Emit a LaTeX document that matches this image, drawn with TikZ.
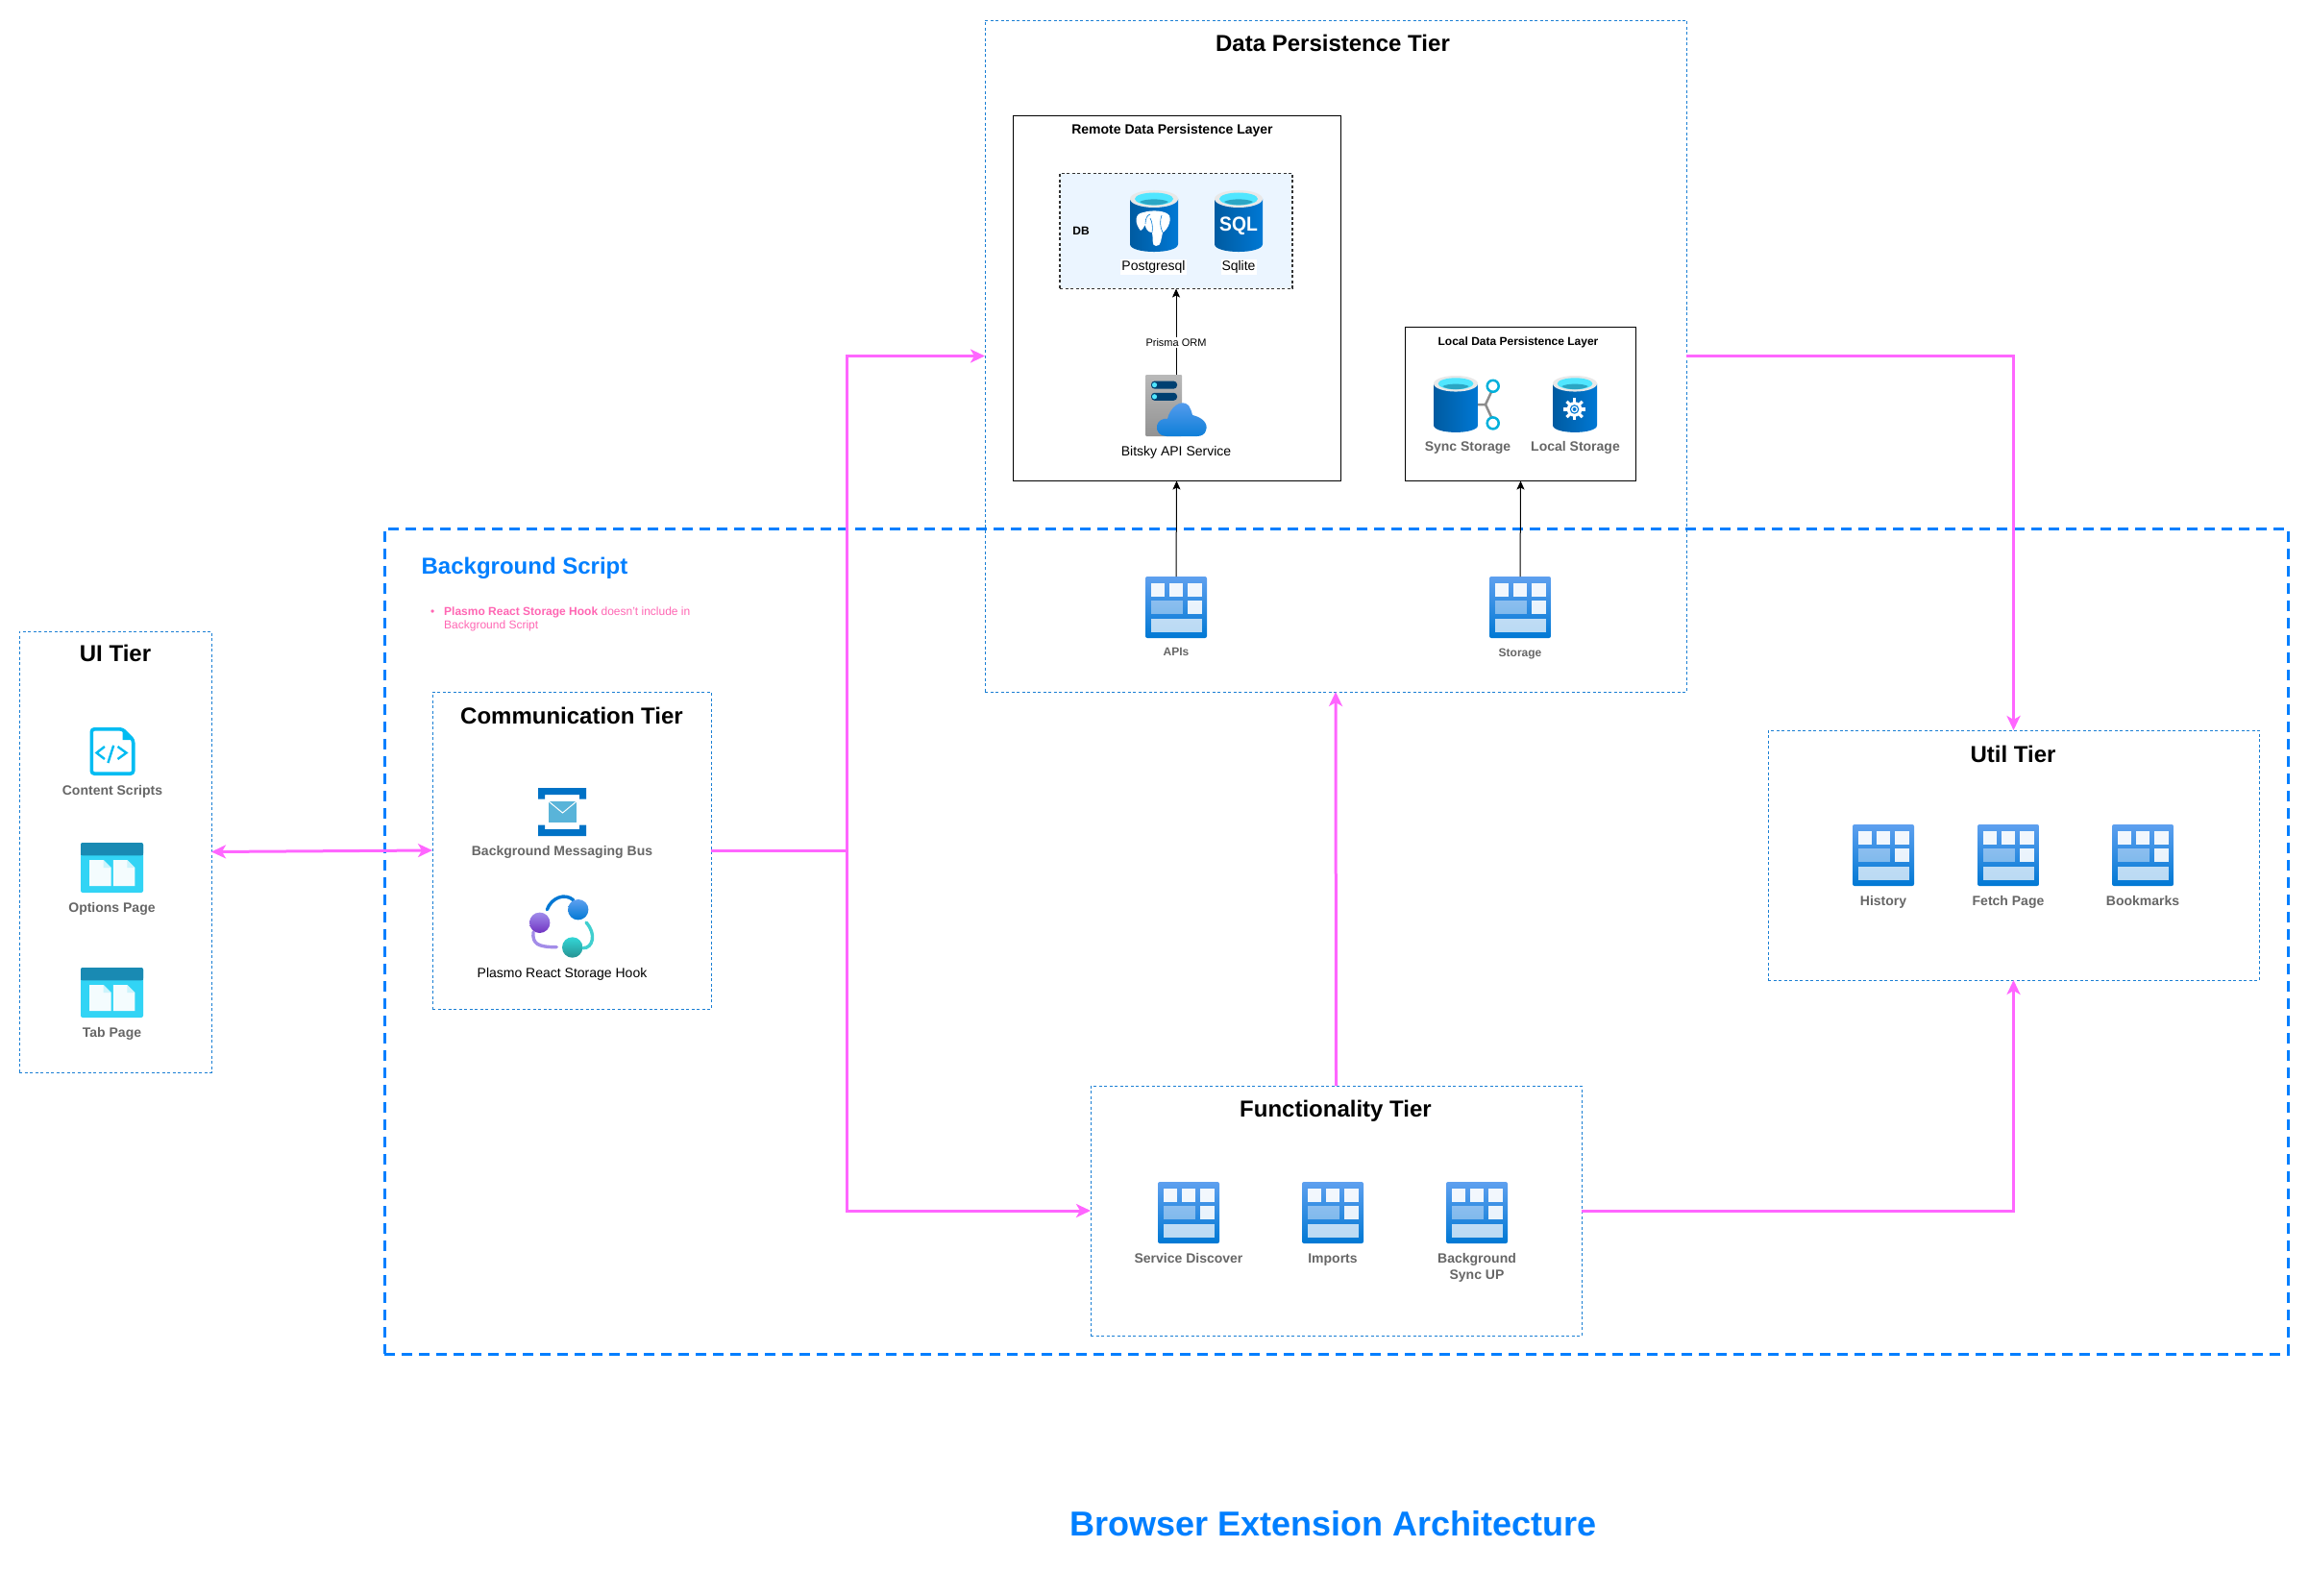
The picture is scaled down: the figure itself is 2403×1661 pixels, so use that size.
\documentclass[tikz,border=0pt]{standalone}
\usepackage{fontspec}
\setmainfont{Liberation Sans}
\usetikzlibrary{arrows.meta,positioning,calc}

\definecolor{tierblue}{HTML}{1A7FD4}
\definecolor{scriptblue}{HTML}{007FFF}
\definecolor{flowpink}{HTML}{FF66FF}
\definecolor{notepink}{HTML}{FF66B3}
\definecolor{labelgray}{HTML}{666666}
\definecolor{gridtop}{HTML}{5EA0EF}
\definecolor{gridbot}{HTML}{0078D4}
\definecolor{dbdark}{HTML}{005BA1}
\definecolor{dbcyan}{HTML}{50E6FF}
\definecolor{dbdeep}{HTML}{2BA6C4}
\definecolor{pagecyan}{HTML}{32D4F5}
\definecolor{pageband}{HTML}{198AB3}
\definecolor{docblue}{HTML}{00BCF2}
\definecolor{busblue}{HTML}{0072C6}
\definecolor{busmail}{HTML}{59B4D9}

% cylinder shared by the database icons, 50 wide and 64 high
\newcommand{\dbbody}{
  \shade[left color=dbdark, right color=gridbot]
    (0,9) -- (0,56) .. controls (0,66.7) and (50,66.7) .. (50,56) -- (50,9) -- cycle;
  \fill[gray!18] (25,9) ellipse [x radius=25, y radius=9];
  \fill[dbcyan] (25,9) ellipse [x radius=20, y radius=6.5];
  \fill[dbdeep] (10,12) .. controls (16,8.5) and (34,8.5) .. (40,12)
    .. controls (34,16.5) and (16,16.5) .. (10,12) -- cycle;
}

\tikzset{
  gridicon/.pic={
    \node[iconbox, minimum width=64, minimum height=64] (box) at (32,32) {};
    \shade[top color=gridtop, bottom color=gridbot, rounded corners=2pt] (0,0) rectangle (64,64);
    \foreach \xx in {5.5,24.5,44}
      \fill[white, opacity=0.93] (\xx,6.7) rectangle ++(14.8,14.2);
    \fill[white, opacity=0.42] (5.5,25) rectangle (39.3,39);
    \fill[white, opacity=0.9] (44,25) rectangle (58.8,39);
    \fill[white, opacity=0.72] (5.5,43.5) rectangle (58.5,57.5);
  },
  pageicon/.pic={
    \node[iconbox, minimum width=65, minimum height=52] (box) at (32.5,26) {};
    \fill[pagecyan, rounded corners=2pt] (0,0) rectangle (65,52);
    \fill[pageband, rounded corners=2pt] (0,0) rectangle (65,13.4);
    \fill[pageband] (0,8) rectangle (65,13.4);
    \foreach \xx in {9.2,33.9} {
      \fill[white, opacity=0.95] (\xx,18) -- ++(14.5,0) -- ++(8,8) -- ++(0,19) -- ++(-22.5,0) -- cycle;
      \fill[pagecyan!25!white] (\xx+14.5,18) -- ++(8,8) -- ++(-8,0) -- cycle;
    }
  },
  scripticon/.pic={
    \node[iconbox, minimum width=47, minimum height=50] (box) at (23.5,25) {};
    \draw[docblue, line width=3.6pt, rounded corners=3pt]
      (1.8,1.8) -- (34,1.8) -- (45.2,13) -- (45.2,48.2) -- (1.8,48.2) -- cycle;
    \fill[docblue] (34,1.5) -- (45.5,13) -- (34,13) -- cycle;
    \draw[docblue, line width=2.4pt]
      (15.4,20) -- (7,26.5) -- (15.4,33)
      (24.7,18.8) -- (18.9,37)
      (29,20) -- (38,26.5) -- (29,33);
  },
  busicon/.pic={
    \node[iconbox, minimum width=50, minimum height=50] (box) at (25,25) {};
    \fill[busblue] (0,0) rectangle (50,7) (0,7) rectangle (7,11.5) (43,7) rectangle (50,11.5);
    \fill[busblue] (0,50) rectangle (50,43) (0,43) rectangle (7,38.5) (43,43) rectangle (50,38.5);
    \fill[busmail] (11,14) rectangle (40,36);
    \draw[white, line width=1pt] (11,14) -- (25.5,26) -- (40,14);
  },
  hookicon/.pic={
    \node[iconbox, minimum width=68, minimum height=67] (box) at (34,33.5) {};
    \draw[gridbot, line width=3.4pt, line cap=round]
      (18.3,16.7) .. controls (23,4) and (37,-1) .. (45.7,6.7);
    \draw[violet!40!blue!45!white, line width=3.4pt, line cap=round]
      (4,40) .. controls (3,52) and (8,55.7) .. (28.3,55.7);
    \draw[teal!50!cyan!75!white, line width=3.4pt, line cap=round]
      (59,30) .. controls (70,42) and (66,57) .. (55.7,56.7);
    \shade[top color=gridtop, bottom color=gridbot] (50.7,16.7) circle [radius=10.7];
    \shade[top color=violet!35!blue!45!white, bottom color=violet!60!blue!80!white] (10.7,30.3) circle [radius=10.7];
    \shade[top color=teal!40!cyan!80!white, bottom color=teal!85!white] (44.7,56) circle [radius=10.7];
  },
  pgicon/.pic={
    \dbbody
    \fill[white] (14,23) .. controls (22,20.5) and (37,20.5) .. (41,26.5)
      .. controls (43.5,33) and (38,42) .. (34,44) .. controls (32,51) and (33,58) .. (27,58)
      .. controls (22,58) and (24.5,50) .. (23,44) .. controls (18.5,44) and (16.5,40) .. (15.5,36)
      .. controls (14,40) and (12,42) .. (11,42) .. controls (5,35) and (4,24) .. (14,23) -- cycle;
    \draw[gridbot, line width=0.6pt] (16,35) .. controls (16,29) and (18,26) .. (21,25)
      (34,44) .. controls (31,38) and (31,31) .. (33,26) (23,44) .. controls (24,38) and (23,33) .. (21,29);
  },
  sqlicon/.pic={
    \dbbody
    \node[white, font=\bfseries\fontsize{21}{21}\selectfont, inner sep=0, xscale=0.92] (word) at (25,37) {SQL};
  },
  syncicon/.pic={
    \begin{scope}[scale=0.92]
      \dbbody
    \end{scope}
    \draw[gray!90, line width=2.5pt] (46,30) -- (54,30) -- (60,17) (54,30) -- (60,43);
    \draw[docblue!80!teal, line width=2.5pt, fill=white] (61.7,10.8) circle [radius=6];
    \draw[docblue!80!teal, line width=2.5pt, fill=white] (61.7,49.4) circle [radius=6];
  },
  gearicon/.pic={
    \begin{scope}[scale=0.92]
      \dbbody
      \fill[white] (24.5,38) circle [radius=8.5];
      \foreach \a in {0,45,...,315}
        \draw[white, line width=3.2pt] (24.5,38) ++(\a:7) -- ++(\a:5.5);
      \fill[gridbot] (24.5,38) circle [radius=5.2];
      \draw[white, line width=1.2pt] (24.5,38) circle [radius=3];
    \end{scope}
  },
  cloudicon/.pic={
    \node[iconbox, minimum width=64, minimum height=64] (box) at (32,32) {};
    \shade[top color=gray!55, bottom color=gray!85, rounded corners=1pt] (0,0) rectangle (38,64);
    \foreach \yy in {6.6,18.8} {
      \fill[dbdark!70!black, rounded corners=3.5pt] (6,\yy) rectangle ++(27,8);
      \fill[dbcyan] (9.5,\yy+4) circle [radius=2.6];
    }
    \shade[top color=gridtop, bottom color=gridbot!85!gridtop]
      (22,64) .. controls (15,64) and (11,59) .. (12,53) .. controls (13,48) and (18,45) .. (23,46)
      .. controls (25,35) and (37,24) .. (45,32) .. controls (47,35) and (48,38) .. (49,42)
      .. controls (58,44) and (66,50) .. (63,58) .. controls (62,62) and (58,64) .. (54,64) -- cycle;
  }
}

\begin{document}
\begin{tikzpicture}[
  x=1pt, y=-1pt,
  iconbox/.style={inner sep=0, outer sep=0},
  tier/.style={draw=tierblue, line width=0.85pt, dash pattern=on 3pt off 2.5pt, inner sep=0, outer sep=0},
  layer/.style={draw=black, line width=0.85pt, inner sep=0, outer sep=0},
  tiertitle/.style={font=\bfseries\fontsize{24}{24}\selectfont, inner sep=0},
  icontext/.style={font=\bfseries\fontsize{14}{17}\selectfont, text=labelgray, inner sep=0, align=center, below=10.5pt of #1},
  plaintext/.style={font=\fontsize{14}{17}\selectfont, inner sep=0, below=10.5pt of #1},
  flow/.style={flowpink, line width=3pt, -{Stealth[length=15pt, width=14pt, inset=4pt]}},
  twoway/.style={flowpink, line width=3pt, {Stealth[length=15pt, width=14pt, inset=4pt]}-{Stealth[length=15pt, width=14pt, inset=4pt]}},
  link/.style={black, line width=1pt, -{Stealth[length=9pt, width=8pt, inset=2pt]}}
]
\useasboundingbox (0,0) rectangle (2403,1661);

% Tiers
\node[draw=scriptblue, line width=3pt, dash pattern=on 11pt off 7pt, inner sep=0, outer sep=0,
  minimum width=1981, minimum height=859] (script) at (1390.5,979.5) {};
\node[tier, minimum width=730, minimum height=699] (data) at (1390,370.5) {};
\node[tier, minimum width=200, minimum height=459] (ui) at (120,886.5) {};
\node[tier, minimum width=290, minimum height=330] (comm) at (595,885) {};
\node[tier, minimum width=511, minimum height=260] (func) at (1390.5,1260) {};
\node[tier, minimum width=511, minimum height=260] (util) at (2095.5,890) {};
\node[layer, minimum width=341, minimum height=380] (remote) at (1224.5,310.5) {};
\node[layer, minimum width=240, minimum height=160] (local) at (1582.5,420.5) {};
\node[draw=black!80, line width=1.2pt, dash pattern=on 3pt off 2.5pt, fill=blue!50!cyan!8, inner sep=0, outer sep=0,
  minimum width=242, minimum height=120] (dbgroup) at (1224,240.5) {};

% Titles
\node[tiertitle] (datatitle) at (1387,44.7) {Data Persistence Tier};
\node[tiertitle] (uititle) at (120,680) {UI Tier};
\node[tiertitle] (commtitle) at (595,745) {Communication Tier};
\node[tiertitle] (functitle) at (1390,1156) {Functionality Tier};
\node[tiertitle] (utiltitle) at (2095,785) {Util Tier};
\node[tiertitle, text=scriptblue] (scripttitle) at (546,591) {Background Script};
\node[font=\bfseries\fontsize{36}{36}\selectfont, text=scriptblue, inner sep=0] (pagetitle) at (1387.5,1586) {Browser Extension Architecture};
\node[font=\bfseries\fontsize{14}{14}\selectfont, inner sep=0] (remotetitle) at (1220,136) {Remote Data Persistence Layer};
\node[font=\bfseries\fontsize{12}{12}\selectfont, inner sep=0] (localtitle) at (1580,356) {Local Data Persistence Layer};
\node[font=\bfseries\fontsize{12}{12}\selectfont, inner sep=0] (dbtitle) at (1125,240) {DB};
\node[font=\fontsize{12}{14}\selectfont, text=notepink, inner sep=0, align=left, anchor=west] (note) at (448,644)
  {\makebox[14pt][l]{•}\textbf{Plasmo React Storage Hook} doesn't include in\\\hspace*{14pt}Background Script};

% UI tier icons
\pic (scripts) at (93.5,757) {scripticon};
\node[icontext=scriptsbox] (scriptslabel) {Content Scripts};
\pic (options) at (84,877) {pageicon};
\node[icontext=optionsbox] (optionslabel) {Options Page};
\pic (tab) at (84,1007) {pageicon};
\node[icontext=tabbox] (tablabel) {Tab Page};

% Communication tier icons
\pic (bus) at (560,820) {busicon};
\node[icontext=busbox] (buslabel) {Background Messaging Bus};
\pic (hook) at (551,930) {hookicon};
\node[plaintext=hookbox] (hooklabel) {Plasmo React Storage Hook};

% Data persistence icons
\pic at (1176,198) {pgicon};
\node[font=\fontsize{14}{17}\selectfont, fill=white, inner sep=1pt, anchor=center] (pglabel) at (1200.5,278) {Postgresql};
\pic at (1264,198) {sqlicon};
\node[font=\fontsize{14}{17}\selectfont, fill=white, inner sep=1pt, anchor=center] (sqllabel) at (1289,278) {Sqlite};
\pic (bitsky) at (1192,390) {cloudicon};
\node[plaintext=bitskybox] (bitskylabel) {Bitsky API Service};
\pic at (1492,391) {syncicon};
\node[font=\bfseries\fontsize{14}{17}\selectfont, text=labelgray, inner sep=0] (synclabel) at (1527.5,466) {Sync Storage};
\pic at (1616,391) {gearicon};
\node[font=\bfseries\fontsize{14}{17}\selectfont, text=labelgray, inner sep=0] (locallabel) at (1639.5,466) {Local Storage};
\pic (apis) at (1192,600) {gridicon};
\node[icontext=apisbox, font=\bfseries\fontsize{12}{14}\selectfont] (apislabel) {APIs};
\pic (storage) at (1550,600) {gridicon};
\node[icontext=storagebox, font=\bfseries\fontsize{12}{14}\selectfont] (storagelabel) {Storage};

% Functionality tier icons
\pic (discover) at (1205,1230) {gridicon};
\node[icontext=discoverbox] (discoverlabel) {Service Discover};
\pic (imports) at (1355,1230) {gridicon};
\node[icontext=importsbox] (importslabel) {Imports};
\pic (syncup) at (1505,1230) {gridicon};
\node[icontext=syncupbox] (syncuplabel) {Background\\Sync UP};

% Util tier icons
\pic (history) at (1928,858) {gridicon};
\node[icontext=historybox] (historylabel) {History};
\pic (fetch) at (2058,858) {gridicon};
\node[icontext=fetchbox] (fetchlabel) {Fetch Page};
\pic (marks) at (2198,858) {gridicon};
\node[icontext=marksbox] (markslabel) {Bookmarks};

% Black arrows
\draw[link] (bitskybox.north) -- node[pos=0.378, fill=white, font=\fontsize{11}{11}\selectfont, inner sep=1.5pt] (prisma) {Prisma ORM} (dbgroup.south);
\draw[link] (apisbox.north) -- (remote.south);
\draw[link] (storagebox.north) -- (local.south);

% Pink flows
\coordinate (split) at (881,885);
\draw[twoway] (ui.east) -- (comm.west);
\draw[flow] (comm.east) -- (split) |- (data.west);
\draw[flow] (split) |- (func.west);
\draw[flow] (func.north) -- (data.south);
\draw[flow] (func.east) -| (util.south);
\draw[flow] (data.east) -| (util.north);

\end{tikzpicture}
\end{document}
